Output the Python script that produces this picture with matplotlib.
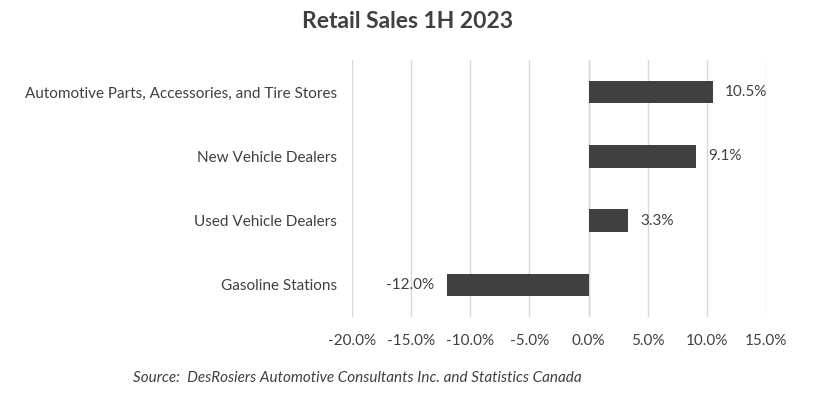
import matplotlib.pyplot as plt
from matplotlib.ticker import FuncFormatter

plt.rcParams['font.family'] = ['Lato', 'DejaVu Sans']

# data (top to bottom)
categories = ["Automotive Parts, Accessories, and Tire Stores",
              "New Vehicle Dealers",
              "Used Vehicle Dealers",
              "Gasoline Stations"]
values = [10.5, 9.1, 3.3, -12.0]
x_ticks = [-20, -15, -10, -5, 0, 5, 10, 15]

text_col = "#404040"
bar_col = "#404040"
grid_col = "#d9d9d9"

fig = plt.figure(figsize=(8.15, 3.94), dpi=100)
ax = fig.add_axes([352 / 815, 1 - 317 / 394, (766 - 352) / 815, (317 - 60) / 394])

ypos = list(range(len(categories)))
ax.barh(ypos, values, height=0.35, color=bar_col, zorder=3)
ax.set_ylim(len(categories) - 0.5, -0.5)
ax.set_xlim(-20, 15)

ax.set_xticks(x_ticks)
ax.xaxis.set_major_formatter(FuncFormatter(lambda v, p: f"{v:.1f}%"))
ax.set_yticks(ypos)
ax.set_yticklabels(categories)
ax.tick_params(axis="both", length=0, labelsize=11, labelcolor=text_col)
ax.tick_params(axis="y", pad=11)
ax.tick_params(axis="x", pad=12)

ax.grid(axis="x", color=grid_col, linewidth=1, zorder=0)
for s in ax.spines.values():
    s.set_visible(False)
ax.axvline(0, color=grid_col, linewidth=1, zorder=1)

for y, v in zip(ypos, values):
    if v >= 0:
        ax.annotate(f"{v:.1f}%", (v, y), xytext=(9, 0), textcoords="offset points",
                    ha="left", va="center", fontsize=11, color=text_col)
    else:
        ax.annotate(f"{v:.1f}%", (v, y), xytext=(-9, 0), textcoords="offset points",
                    ha="right", va="center", fontsize=11, color=text_col)

fig.text(408 / 815, 1 - 21 / 394, "Retail Sales 1H 2023", ha="center", va="center",
         fontsize=16.5, fontweight="bold", color=text_col)
fig.text(133 / 815, 1 - 378 / 394,
         "Source:  DesRosiers Automotive Consultants Inc. and Statistics Canada",
         ha="left", va="center", fontsize=11, style="italic", color=text_col)

fig.savefig("out.png", dpi=100)
